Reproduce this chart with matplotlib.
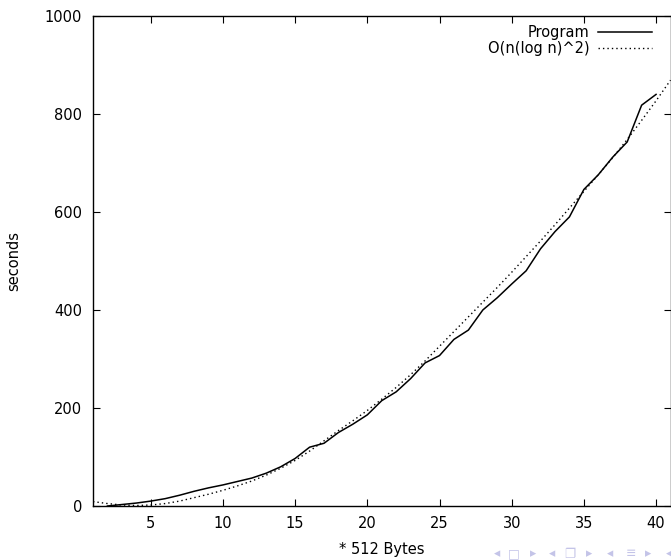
import matplotlib
matplotlib.use("Agg")
import matplotlib.pyplot as plt

# ---- data ----
prog_x = list(range(2, 41))
prog_y = [0, 3, 6, 10, 15, 22, 30, 37, 43, 50, 57, 67, 80, 97, 120, 128, 150, 167, 186,
          215, 233, 260, 292, 307, 340, 359, 400, 425, 453, 480, 525, 560, 590, 646,
          676, 712, 743, 818, 840]

fit_x = list(range(1, 42))
fit_y = [9, 5, 2, 1, 2, 5, 10, 17, 24, 32, 41, 51, 63, 77, 93, 112, 133, 154, 174, 195,
         218, 242, 268, 296, 326, 356, 386, 416, 446, 477, 509, 541, 574, 608, 642, 676,
         711, 748, 787, 827, 869]

series_labels = ["Program", "O(n(log n)^2)"]
x_ticks = [5, 10, 15, 20, 25, 30, 35, 40]
y_ticks = [0, 200, 400, 600, 800, 1000]
x_label = "* 512 Bytes"
y_label = "seconds"
nav_symbols = ["◂", "□", "▸", "◂", "❐", "▸", "◂", "≡", "▸", "◂"]

plt.rcParams['font.family'] = ['DejaVu Sans', 'Noto Sans']
fig = plt.figure(figsize=(6.71, 5.60), dpi=100)
ax = fig.add_axes([93 / 671, 1 - 506 / 560, (670.5 - 93) / 671, (506 - 16) / 560])

ax.plot(prog_x, prog_y, color='black', linewidth=1.1, label=series_labels[0])
ax.plot(fit_x, fit_y, color='black', linewidth=1.0, linestyle=(0, (1, 2.2)),
        label=series_labels[1])

ax.set_xlim(1, 41)
ax.set_ylim(0, 1000)
ax.set_xticks(x_ticks)
ax.set_yticks(y_ticks)
ax.tick_params(direction='in', length=5, width=0.8, top=True, right=True,
               labelsize=10.5, colors='black')
ax.tick_params(axis='x', pad=7)
ax.tick_params(axis='y', pad=8)
for s in ax.spines.values():
    s.set_linewidth(1.0)

ax.set_xlabel(x_label, fontsize=10.5, labelpad=8)
ax.set_ylabel(y_label, fontsize=10.5, labelpad=16.5)

leg = ax.legend(loc='upper right', frameon=False, markerfirst=False, fontsize=10.5,
                handlelength=3.7, handletextpad=0.6, labelspacing=0.05,
                borderaxespad=0.25, bbox_to_anchor=(0.985, 1.0))
for t in leg.get_texts():
    t.set_ha('right')

nav_x = [497, 514, 533, 552, 570, 589, 610, 631, 648, 669]
for sx, sym in zip(nav_x, nav_symbols):
    fig.text(sx / 671, 1 - 554 / 560, sym, color='#c4c4e8', fontsize=9,
             ha='center', va='center')

fig.savefig("out.png", dpi=100)
